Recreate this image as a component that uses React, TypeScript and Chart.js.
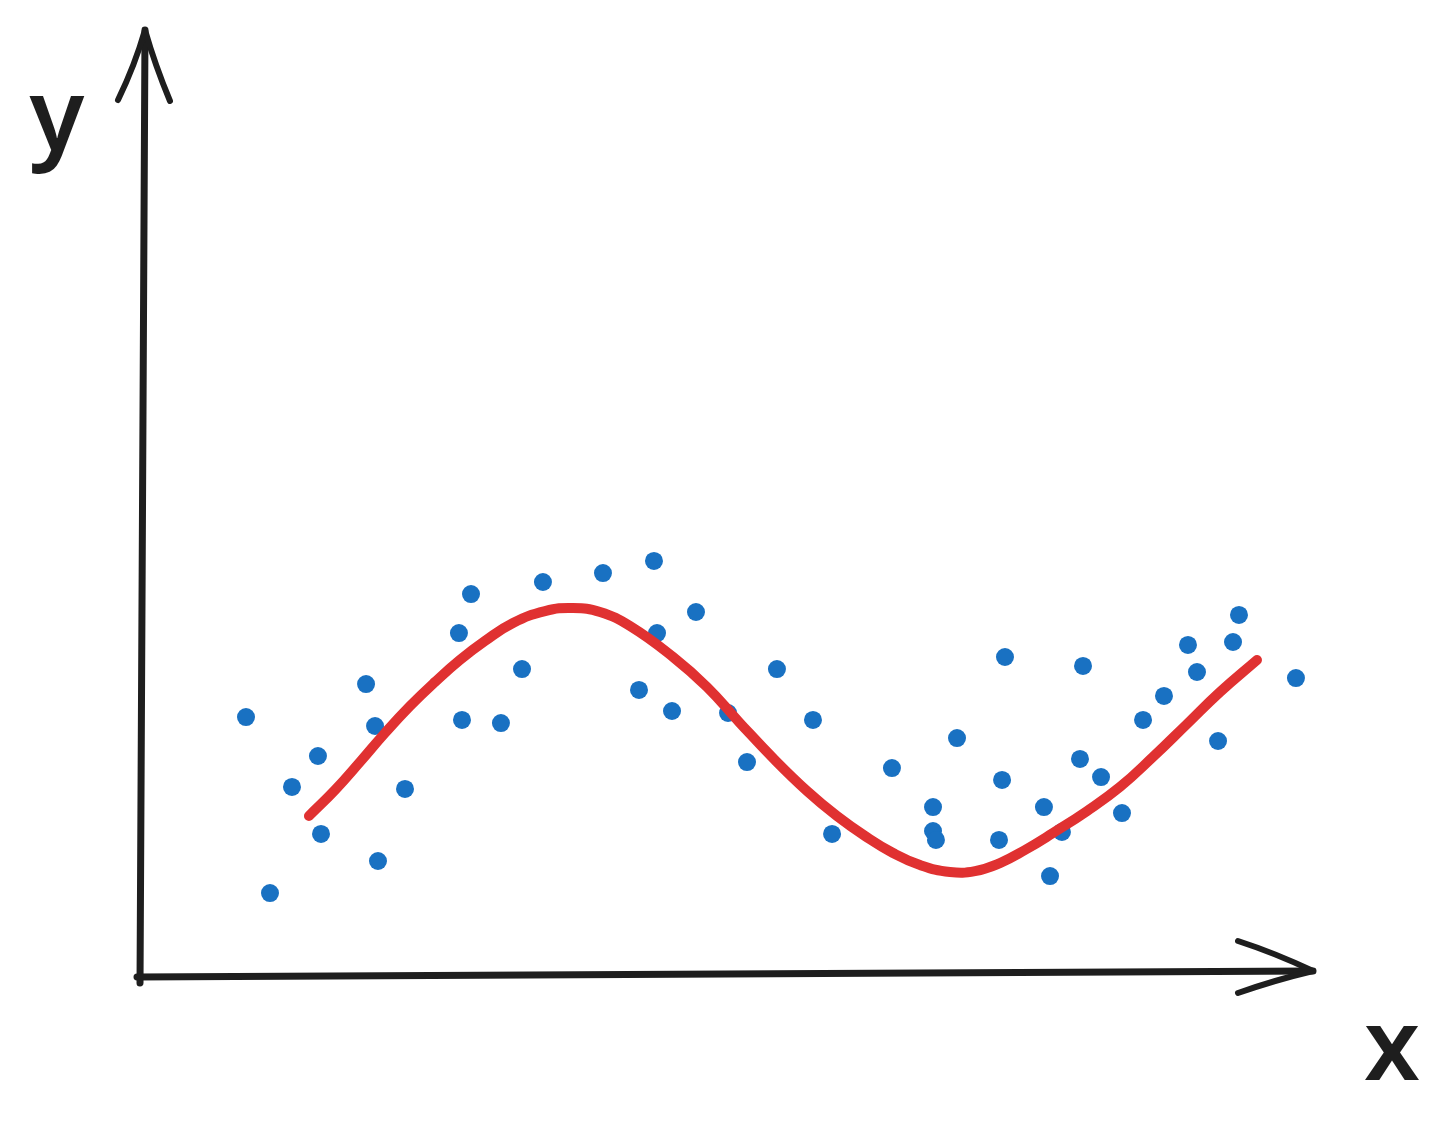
import React, { useEffect, useRef } from 'react';
import { Chart, registerables } from 'chart.js';

Chart.register(...registerables);

// Scattered observations (x, y)
const sampleX = [9.06, 11.11, 12.99, 15.21, 15.47, 19.32, 20.09, 20.34, 22.65, 27.26, 27.52, 28.29, 30.85, 32.65, 34.44, 39.57, 42.65, 43.93, 44.19, 45.47, 47.52, 50.26, 51.88, 54.44, 57.52, 59.15, 64.27, 67.78, 67.78, 68.03, 69.83, 73.42, 73.68, 73.93, 77.26, 77.78, 78.80, 80.34, 80.60, 82.14, 83.93, 85.73, 87.52, 89.57, 90.34, 92.14, 93.42, 93.93, 98.80];
const sampleY = [21.84, 6.94, 15.92, 18.54, 11.94, 24.63, 21.08, 9.65, 15.75, 28.95, 21.59, 32.25, 21.33, 25.90, 33.27, 34.03, 24.13, 35.05, 28.95, 22.35, 30.73, 22.18, 18.03, 25.90, 21.59, 11.94, 17.52, 14.22, 12.19, 11.43, 20.06, 11.43, 16.51, 26.92, 14.22, 8.38, 12.11, 18.29, 26.16, 16.76, 13.71, 21.59, 23.62, 27.94, 25.65, 19.81, 28.19, 30.48, 25.14];

// Fitted curve
const fitX = [14.44, 16.67, 18.80, 20.94, 23.08, 25.21, 27.35, 29.49, 31.88, 34.62, 37.01, 39.32, 41.88, 45.56, 48.46, 51.28, 54.10, 57.01, 59.57, 61.97, 64.36, 66.67, 69.23, 71.37, 73.50, 75.64, 78.03, 80.94, 83.76, 86.58, 89.49, 92.31, 95.47];
const fitY = [13.46, 15.66, 18.03, 20.49, 22.77, 24.80, 26.67, 28.28, 29.80, 30.81, 31.07, 30.73, 29.54, 26.92, 24.38, 21.33, 18.37, 15.58, 13.46, 11.77, 10.33, 9.31, 8.72, 8.80, 9.48, 10.58, 12.02, 13.88, 15.92, 18.46, 21.25, 23.96, 26.67];

const xLabel = 'x';
const yLabel = 'y';
const X_MAX = 100;
const Y_MAX = 80;

const INK = '#1e1e1e';
const RED = '#e03131';
const BLUE = '#1971c2';

const sketchAxes = {
  id: 'sketchAxes',
  afterDraw(chart: any) {
    const ctx = chart.ctx;
    const xs = chart.scales.x;
    const ys = chart.scales.y;
    const ox = xs.getPixelForValue(0);
    const oy = ys.getPixelForValue(0);
    const right = xs.getPixelForValue(X_MAX);
    const top = ys.getPixelForValue(Y_MAX);
    ctx.save();
    ctx.strokeStyle = INK;
    ctx.lineCap = 'round';
    ctx.lineJoin = 'round';

    // y axis
    ctx.lineWidth = 7;
    ctx.beginPath();
    ctx.moveTo(ox, oy + 8);
    ctx.lineTo(ox + 5, top);
    ctx.stroke();
    ctx.lineWidth = 6;
    ctx.beginPath();
    ctx.moveTo(ox - 22, top + 70);
    ctx.quadraticCurveTo(ox - 5, top + 35, ox + 5, top);
    ctx.quadraticCurveTo(ox + 15, top + 35, ox + 30, top + 71);
    ctx.stroke();

    // x axis
    ctx.lineWidth = 7;
    ctx.beginPath();
    ctx.moveTo(ox - 3, oy + 2);
    ctx.lineTo(right + 3, oy - 4);
    ctx.stroke();
    ctx.lineWidth = 6;
    ctx.beginPath();
    ctx.moveTo(right - 72, oy - 34);
    ctx.quadraticCurveTo(right - 35, oy - 22, right + 3, oy - 4);
    ctx.quadraticCurveTo(right - 35, oy + 5, right - 72, oy + 18);
    ctx.stroke();

    // axis letters
    ctx.fillStyle = INK;
    ctx.font = "600 100px 'Noto Sans'";
    ctx.textAlign = 'center';
    ctx.textBaseline = 'alphabetic';
    ctx.fillText(yLabel, ox - 83, top + 120);
    ctx.fillText(xLabel, right + 82, oy + 105);
    ctx.restore();
  },
};

export default function App() {
  const canvasRef = useRef<HTMLCanvasElement | null>(null);

  useEffect(() => {
    if (!canvasRef.current) return;
    const chart = new Chart(canvasRef.current, {
      type: 'scatter',
      data: {
        datasets: [
          {
            type: 'line',
            label: 'fit',
            data: fitX.map((x, i) => ({ x, y: fitY[i] })),
            borderColor: RED,
            backgroundColor: RED,
            borderWidth: 10,
            pointRadius: 0,
            tension: 0.45,
            fill: false,
            borderCapStyle: 'round',
            borderJoinStyle: 'round',
            order: 0,
          } as any,
          {
            label: 'samples',
            data: sampleX.map((x, i) => ({ x, y: sampleY[i] })),
            backgroundColor: BLUE,
            borderColor: BLUE,
            borderWidth: 0,
            pointRadius: 9,
            order: 1,
          },
        ],
      },
      options: {
        responsive: false,
        animation: false,
        events: [],
        layout: { padding: { left: 140, right: 137, top: 30, bottom: 171 } },
        plugins: { legend: { display: false }, tooltip: { enabled: false } },
        scales: {
          x: { type: 'linear', min: 0, max: X_MAX, display: false },
          y: { type: 'linear', min: 0, max: Y_MAX, display: false },
        },
      },
      plugins: [sketchAxes],
    });
    return () => chart.destroy();
  }, []);

  return (
    <div style={{ position: 'absolute', left: 0, top: 0, width: 1447, height: 1146, background: '#ffffff' }}>
      <canvas ref={canvasRef} width={1447} height={1146} style={{ display: 'block', width: 1447, height: 1146 }} />
    </div>
  );
}
